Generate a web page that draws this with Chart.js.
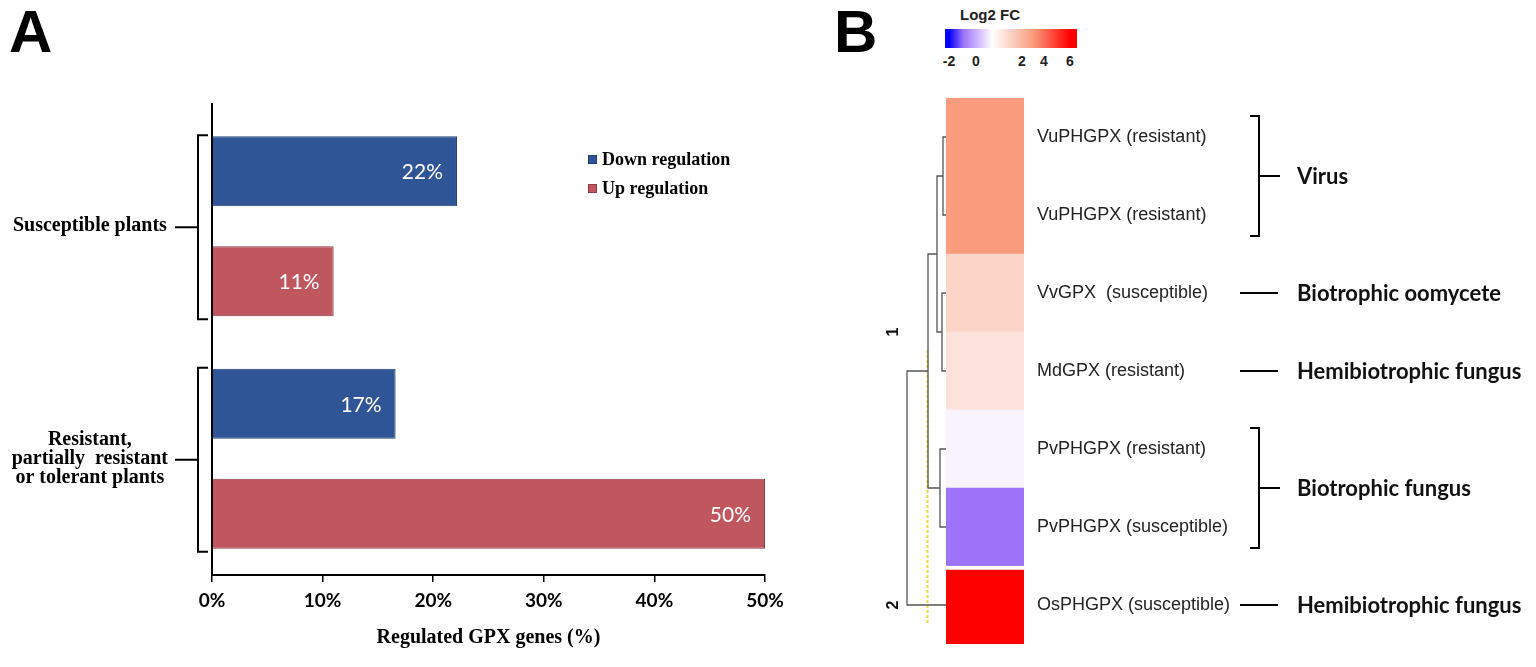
<!DOCTYPE html>
<html>
<head>
<meta charset="utf-8">
<script src="https://cdn.jsdelivr.net/npm/chart.js@4.4.0/dist/chart.umd.min.js"></script>
<style>
  body { margin: 0; background: #fff; width: 1536px; height: 667px; overflow: hidden; position: relative; }
  .box { position: absolute; }
  .panel { position: absolute; font: bold 60px "Liberation Sans", Arial, sans-serif; line-height: 1; color: #000; }
  .cb-title { position: absolute; left: 950px; top: 6px; width: 80px; text-align: center; font: bold 15px "Liberation Sans", Arial, sans-serif; color: #222; }
  .cb-bar { position: absolute; left: 945px; top: 29px; width: 132px; height: 19px; }
  .cb-tick { position: absolute; top: 53px; width: 20px; margin-left: -10px; text-align: center; font: bold 14px "Liberation Sans", Arial, sans-serif; color: #222; }
</style>
</head>
<body>
<div class="panel" style="left:9px;top:2px">A</div>
<div class="panel" style="left:834px;top:2px">B</div>

<div class="box" style="left:0;top:0;width:820px;height:667px"><canvas id="barChart"></canvas></div>

<div class="cb-title">Log2 FC</div>
<div class="cb-bar" id="cbBar"></div>
<div id="cbTicks"></div>

<div class="box" style="left:880px;top:98px;width:66px;height:546px"><canvas id="dendro"></canvas></div>
<div class="box" style="left:946px;top:98px;width:590px;height:546px"><canvas id="heat"></canvas></div>

<script>
// ---- panel A data ----
const plantGroups = [["Susceptible plants"], ["Resistant,", "partially  resistant", "or tolerant plants"]];
const downRegulation = [22.15, 16.6];
const upRegulation = [11, 50];
const xTickStep = 10;

// ---- panel B data ----
const geneLabels = [
  "VuPHGPX (resistant)", "VuPHGPX (resistant)", "VvGPX  (susceptible)", "MdGPX (resistant)",
  "PvPHGPX (resistant)", "PvPHGPX (susceptible)", "OsPHGPX (susceptible)"
];
const log2fc = [3, 3, 1.67, 1.34, 0.6, -0.5, 6];
const clusterOf = [1, 1, 1, 1, 1, 1, 2];
// linkage: [left node, right node, height]; leaves 0-6, merged nodes 7..
const merges = [[0, 1, 0.3], [2, 3, 0.4], [4, 5, 0.6], [7, 8, 0.9], [10, 9, 1.8], [11, 6, 3.9]];
const cutHeight = 1.85;
const groupNames = ["Virus", "Biotrophic oomycete", "Hemibiotrophic fungus", "Biotrophic fungus", "Hemibiotrophic fungus"];
const groupFirst = [0, 2, 3, 4, 6];
const groupLast = [1, 2, 3, 5, 6];
const legendTicks = ["-2", "0", "2", "4", "6"];
const legendTickX = [949, 976, 1022, 1044, 1070];

const BLUE = "#2f5597", RED = "#c0575f";

// colour map for log2 FC
const cmap = [[-2, [0, 0, 255]], [-0.5, [158, 115, 250]], [0.7, [255, 255, 255]], [3, [249, 155, 125]], [6, [255, 0, 0]]];
function colorFor(v) {
  if (v <= cmap[0][0]) return "rgb(" + cmap[0][1].join(",") + ")";
  for (let i = 1; i < cmap.length; i++) {
    if (v <= cmap[i][0]) {
      const t = (v - cmap[i - 1][0]) / (cmap[i][0] - cmap[i - 1][0]);
      const c = cmap[i - 1][1].map((a, k) => Math.round(a + (cmap[i][1][k] - a) * t));
      return "rgb(" + c.join(",") + ")";
    }
  }
  return "rgb(" + cmap[cmap.length - 1][1].join(",") + ")";
}

// colour bar legend
document.getElementById("cbBar").style.background =
  "linear-gradient(to right, #0000ff 0%, #0000ff 3%, rgb(158,115,250) 14%, #ffffff 36%, rgb(249,155,125) 67%, #ff0000 95%, #ff0000 100%)";
const cbTicks = document.getElementById("cbTicks");
legendTicks.forEach((t, i) => {
  const d = document.createElement("div");
  d.className = "cb-tick";
  d.style.left = legendTickX[i] + "px";
  d.textContent = t;
  cbTicks.appendChild(d);
});

// ---- panel A ----
const barExtras = {
  id: "barExtras",
  afterDatasetsDraw(chart) {
    const ctx = chart.ctx;
    const y = chart.scales.y;
    ctx.save();
    ctx.strokeStyle = "#000";
    ctx.lineWidth = 2;
    // axis line runs a little above the plot
    ctx.beginPath();
    ctx.moveTo(chart.chartArea.left, 103);
    ctx.lineTo(chart.chartArea.left, chart.chartArea.top);
    ctx.stroke();
    // brackets around each plant group
    plantGroups.forEach((g, i) => {
      const yc = y.getPixelForValue(i);
      const top = yc - 91, bot = yc + 93;
      ctx.beginPath();
      ctx.moveTo(208, top); ctx.lineTo(198, top); ctx.lineTo(198, bot); ctx.lineTo(208, bot);
      ctx.moveTo(198, yc + 1); ctx.lineTo(175, yc + 1);
      ctx.stroke();
    });
    // value labels inside bars
    ctx.fillStyle = "#fff";
    ctx.font = "21px Lato";
    ctx.textAlign = "right";
    ctx.textBaseline = "middle";
    chart.data.datasets.forEach((ds, di) => {
      chart.getDatasetMeta(di).data.forEach((bar, i) => {
        ctx.fillText(Math.round(ds.data[i]) + "%", bar.x - 14, bar.y + 1);
      });
    });
    // legend
    ctx.textAlign = "left";
    ctx.font = "bold 18px 'Liberation Serif'";
    chart.data.datasets.forEach((ds, di) => {
      const ly = 160 + di * 29;
      ctx.fillStyle = ds.backgroundColor;
      ctx.fillRect(588, ly - 5, 9, 9);
      ctx.strokeStyle = ds.borderColor;
      ctx.lineWidth = 1;
      ctx.strokeRect(588.5, ly - 4.5, 8, 8);
      ctx.fillStyle = "#000";
      ctx.fillText(ds.label, 602, ly);
    });
    ctx.restore();
  }
};

new Chart(document.getElementById("barChart"), {
  type: "bar",
  data: {
    labels: plantGroups,
    datasets: [
      { label: "Down regulation", data: downRegulation, backgroundColor: BLUE, borderColor: "#22406f", borderWidth: 1 },
      { label: "Up regulation", data: upRegulation, backgroundColor: RED, borderColor: "#8a3d44", borderWidth: 1 }
    ]
  },
  options: {
    indexAxis: "y",
    responsive: true,
    maintainAspectRatio: false,
    animation: false,
    barPercentage: 0.636,
    categoryPercentage: 0.946,
    layout: { padding: { top: 110, right: 55, left: 0, bottom: 0 } },
    scales: {
      x: {
        min: 0, max: 50,
        ticks: { stepSize: xTickStep, callback: v => v + "%", color: "#000", font: { family: "Lato", weight: "bold", size: 19 }, padding: 7 },
        grid: { drawOnChartArea: false, drawTicks: true, tickLength: 7, color: "#000", lineWidth: 1.5 },
        border: { display: true, color: "#000", width: 2 },
        title: { display: true, text: "Regulated GPX genes (%)", color: "#000", font: { family: "Liberation Serif", weight: "bold", size: 20 }, padding: { top: 0, bottom: 17 } },
        afterFit(s) { s.height = 92; }
      },
      y: {
        ticks: { color: "#000", font: { family: "Liberation Serif", weight: "bold", size: 20, lineHeight: 0.95 }, crossAlign: "center", padding: 44 },
        grid: { display: false, drawTicks: false },
        border: { display: true, color: "#000", width: 2 },
        afterFit(s) { s.width = 212; }
      }
    },
    plugins: { legend: { display: false }, tooltip: { enabled: false } }
  },
  plugins: [barExtras]
});

// ---- panel B: dendrogram ----
const nodes = log2fc.map((v, i) => ({ y: i, h: 0 }));
const dendroSets = merges.map(([a, b, h]) => {
  const na = nodes[a], nb = nodes[b];
  nodes.push({ y: (na.y + nb.y) / 2, h: h });
  return {
    data: [{ x: na.h, y: na.y }, { x: h, y: na.y }, { x: h, y: nb.y }, { x: nb.h, y: nb.y }],
    showLine: true, borderColor: "#555", borderWidth: 1.3, pointRadius: 0, fill: false
  };
});
const firstCut = log2fc.length - 1 - 3.27, lastCut = log2fc.length - 1 + 0.23;
dendroSets.push({
  data: [{ x: cutHeight, y: firstCut }, { x: cutHeight, y: lastCut }],
  showLine: true, borderColor: "#ebdc3c", borderWidth: 2, borderDash: [3, 2], pointRadius: 0
});

const clusterLabels = {
  id: "clusterLabels",
  afterDatasetsDraw(chart) {
    const ctx = chart.ctx;
    const xs = chart.scales.x, ys = chart.scales.y;
    ctx.save();
    ctx.font = "bold 16px 'Liberation Sans'";
    ctx.fillStyle = "#111";
    ctx.textAlign = "center";
    ctx.textBaseline = "middle";
    [...new Set(clusterOf)].forEach(c => {
      const rows = clusterOf.map((k, i) => k === c ? i : null).filter(i => i !== null);
      const mid = rows.reduce((s, r) => s + r, 0) / rows.length;
      ctx.save();
      ctx.translate(xs.getPixelForValue(5.2), ys.getPixelForValue(mid));
      ctx.rotate(-Math.PI / 2);
      ctx.fillText(String(c), 0, 0);
      ctx.restore();
    });
    ctx.restore();
  }
};

new Chart(document.getElementById("dendro"), {
  type: "scatter",
  data: { datasets: dendroSets },
  options: {
    responsive: true, maintainAspectRatio: false, animation: false,
    layout: { padding: 0 },
    scales: {
      x: { type: "linear", min: 0, max: 6.6, reverse: true, display: false },
      y: { type: "linear", min: -0.5, max: log2fc.length - 0.5, reverse: true, display: false }
    },
    plugins: { legend: { display: false }, tooltip: { enabled: false } }
  },
  plugins: [clusterLabels]
});

// ---- panel B: heatmap ----
const groupMarks = {
  id: "groupMarks",
  afterDatasetsDraw(chart) {
    const ctx = chart.ctx;
    const ys = chart.scales.y;
    ctx.save();
    ctx.strokeStyle = "#000";
    ctx.lineWidth = 2;
    ctx.fillStyle = "#111";
    ctx.font = "bold 22px Lato";
    ctx.textAlign = "left";
    ctx.textBaseline = "middle";
    groupNames.forEach((name, i) => {
      const y1 = ys.getPixelForValue(groupFirst[i]);
      const y2 = ys.getPixelForValue(groupLast[i]);
      const ym = (y1 + y2) / 2;
      ctx.beginPath();
      if (groupFirst[i] === groupLast[i]) {
        ctx.moveTo(294, ym); ctx.lineTo(332, ym);
      } else {
        ctx.moveTo(304, y1 - 21); ctx.lineTo(313, y1 - 21); ctx.lineTo(313, y2 + 21); ctx.lineTo(304, y2 + 21);
        ctx.moveTo(313, ym); ctx.lineTo(334, ym);
      }
      ctx.stroke();
      ctx.fillText(name, 351, ym + 1);
    });
    ctx.restore();
  }
};

new Chart(document.getElementById("heat"), {
  type: "bar",
  data: {
    labels: geneLabels,
    datasets: [{
      data: log2fc.map(() => 1),
      backgroundColor: log2fc.map(colorFor),
      borderColor: "#fff",
      borderWidth: clusterOf.map((c, i) => (i > 0 && clusterOf[i - 1] !== c) ? { top: 4 } : 0),
      borderSkipped: false,
      barPercentage: 1,
      categoryPercentage: 1
    }]
  },
  options: {
    indexAxis: "y",
    responsive: true, maintainAspectRatio: false, animation: false,
    layout: { padding: 0 },
    scales: {
      x: { min: 0, max: 1, display: false },
      y: {
        position: "right",
        ticks: { color: "#222", font: { family: "Liberation Sans", size: 18 }, padding: 13 },
        grid: { display: false, drawTicks: false },
        border: { display: false },
        afterFit(s) { s.width = 512; s.paddingTop = 0; s.paddingBottom = 0; }
      }
    },
    plugins: { legend: { display: false }, tooltip: { enabled: false } }
  },
  plugins: [groupMarks]
});
</script>
</body>
</html>
